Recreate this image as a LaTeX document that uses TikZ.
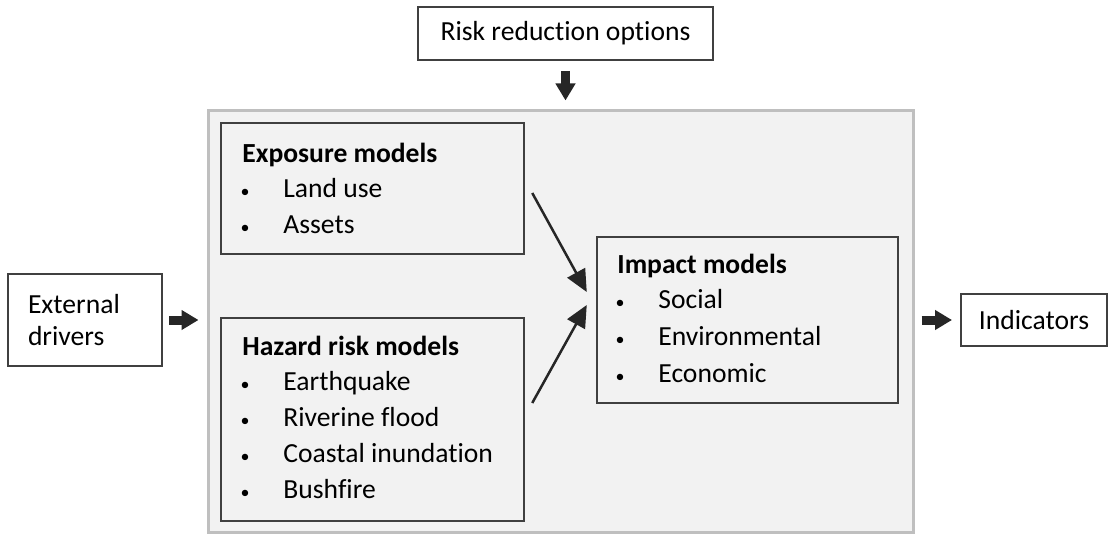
\documentclass[tikz,border=0pt]{standalone}
\usepackage{fontspec}
\setmainfont[Ligatures=NoCommon]{Carlito}
\usetikzlibrary{arrows.meta}
\definecolor{edgec}{HTML}{404040}
\definecolor{panelc}{HTML}{F2F2F2}
\definecolor{framec}{HTML}{BFBFBF}
\definecolor{arrowc}{HTML}{262626}

\begin{document}
\begin{tikzpicture}[x=0.5pt, y=-0.5pt, font=\fontsize{13.8}{16}\selectfont]
  \tikzset{
    wbox/.style={draw=edgec, line width=1pt, fill=white, inner sep=0pt},
    gbox/.style={draw=edgec, line width=1.25pt, fill=panelc, inner sep=0pt},
    ttl/.style={anchor=base west, inner sep=0pt, font=\fontsize{13.8}{16}\selectfont\bfseries},
    item/.style={anchor=base west, inner sep=0pt},
    bul/.style={anchor=base, inner sep=0pt, font=\fontsize{9}{9}\selectfont},
    blockarrow/.style={draw=arrowc, line width=4.5pt, -{Triangle[length=8.5pt, width=9.5pt]}},
    flowarrow/.style={draw=arrowc, line width=1.25pt, -{Triangle[length=11pt, width=10pt]}}
  }
  \useasboundingbox (0,0) rectangle (1113,534);

  % grey panel holding the models
  \node[draw=framec, line width=1.5pt, fill=panelc, minimum width=352.5pt, minimum height=210.5pt] (panel) at (560.5,321.5) {};

  % boxes outside the panel
  \node[wbox, minimum width=147.5pt, minimum height=26.5pt] (rro) at (565.5,33.5) {Risk reduction options};
  \node[wbox, minimum width=77pt, minimum height=46pt, text width=57pt, inner xsep=10pt, align=left] (ext) at (85,320) {External\\drivers};
  \node[wbox, minimum width=73pt, minimum height=26pt] (ind) at (1034,320) {Indicators};

  % model boxes
  \node[gbox, minimum width=151.5pt, minimum height=65.5pt] (expo) at (372.5,188.5) {};
  \node[gbox, minimum width=151.5pt, minimum height=101.5pt] (hazard) at (372.5,419.5) {};
  \node[gbox, minimum width=150.5pt, minimum height=83pt] (impact) at (747.5,320) {};

  % Exposure models
  \node[ttl] (expo-t) at (242,163) {Exposure models};
  \foreach \txt [count=\i] in {Land use, Assets} {
    \node[bul] (expo-b\i) at (245,{198+36*(\i-1)}) {\textbullet};
    \node[item] (expo-\i) at (283,{198+36*(\i-1)}) {\txt};
  }

  % Hazard risk models
  \node[ttl] (hazard-t) at (242,355) {Hazard risk models};
  \foreach \txt [count=\i] in {Earthquake, Riverine flood, Coastal inundation, Bushfire} {
    \node[bul] (hazard-b\i) at (245,{390+36*(\i-1)}) {\textbullet};
    \node[item] (hazard-\i) at (283,{390+36*(\i-1)}) {\txt};
  }

  % Impact models
  \node[ttl] (impact-t) at (617,273) {Impact models};
  \foreach \txt [count=\i] in {Social, Environmental, Economic} {
    \node[bul] (impact-b\i) at (620,{308+37*(\i-1)}) {\textbullet};
    \node[item] (impact-\i) at (658,{308+37*(\i-1)}) {\txt};
  }

  % arrows
  \draw[blockarrow, shorten <=5pt, shorten >=4.5pt] (rro.south) -- (rro.south |- panel.north);
  \draw[blockarrow, shorten <=3pt, shorten >=4pt] (ext.east) -- (ext.east -| panel.west);
  \draw[blockarrow, shorten <=3.5pt, shorten >=4pt] (panel.east |- ind.west) -- (ind.west);
  \draw[flowarrow] ([shift={(7,4.5)}]expo.east) -- ([shift={(-9,-28)}]impact.west);
  \draw[flowarrow] ([shift={(7,-16.5)}]hazard.east) -- ([shift={(-9,-15)}]impact.west);
\end{tikzpicture}
\end{document}
